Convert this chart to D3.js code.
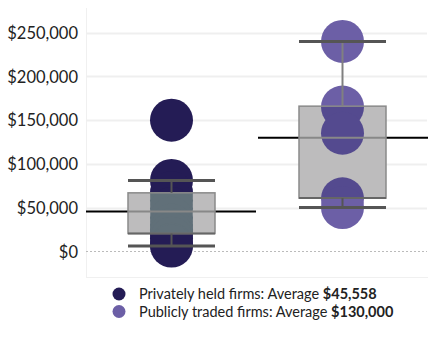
<!DOCTYPE html>
<html>
<head>
<meta charset="utf-8">
<script src="https://cdn.jsdelivr.net/npm/d3@7"></script>
<style>
	body { margin: 0; background: #fff; }
	svg text { font-family: Lato, "Noto Sans", sans-serif; fill: #222; }
</style>
</head>
<body>
<svg id="chart" width="441" height="352"></svg>
<script>
// groups and their values
var groups = ["Privately held firms", "Publicly traded firms"];
var privateValues = [150000, 81000, 67000, 58000, 49000, 38000, 30000, 25000, 20000, 15000, 8000, 6000];
var publicValues = [240000, 165000, 135000, 60000, 50000];
var averages = [45558, 130000];
var q1 = [20300, 60800];
var q3 = [66850, 166000];
var whiskerLow = [6000, 50000];
var whiskerHigh = [81000, 240000];
var yTicks = [0, 50000, 100000, 150000, 200000, 250000];

;(function(){
	var colors = ["#241c55", "#6c5fa6"];
	var inBoxColors = ["#617079", "#544a8f"];
	var r = 21.5;
	var boxHalf = 43.5;

	var svg = d3.select("#chart");
	var values = [privateValues, publicValues];

	var yscale = d3.scaleLinear().domain([-30000, 280000]).range([277.5, 6.5]);
	var xscale = d3.scaleBand().domain(groups).range([86, 428]).padding(0);
	var cx = function(g){ return xscale(g) + xscale.bandwidth() / 2; };

	// pane borders
	svg.append("line")
		.attr("x1", 86.5).attr("x2", 86.5).attr("y1", 8).attr("y2", 277)
		.attr("stroke", "#f0f0f0");
	svg.append("line")
		.attr("x1", 86).attr("x2", 428).attr("y1", 277.5).attr("y2", 277.5)
		.attr("stroke", "#f0f0f0");

	// grid
	svg.append("g").selectAll("line")
		.data(yTicks).enter().append("line")
			.attr("x1", 86).attr("x2", 427)
			.attr("y1", function(d){ return Math.round(yscale(d)) + 0.5; })
			.attr("y2", function(d){ return Math.round(yscale(d)) + 0.5; })
			.attr("stroke", function(d){ return d === 0 ? "#bbb" : "#efefef"; })
			.attr("stroke-width", function(d){ return d === 0 ? 1 : 2; })
			.attr("stroke-dasharray", function(d){ return d === 0 ? "2,2" : null; });

	// y axis labels
	var yaxis = d3.axisLeft(yscale)
		.tickValues(yTicks)
		.tickSize(0)
		.tickPadding(0)
		.tickFormat(function(d){ return "$" + d3.format(",")(d); });
	var gY = svg.append("g")
		.attr("transform", "translate(78,0)")
		.call(yaxis);
	gY.select(".domain").remove();
	gY.selectAll("text")
		.style("font-size", "16.5px")
		.attr("fill", "#222")
		.attr("dy", "0.35em");

	// clip paths for the boxes
	var defs = svg.append("defs");
	groups.forEach(function(g, i){
		defs.append("clipPath").attr("id", "box" + i)
			.append("rect")
				.attr("x", cx(g) - boxHalf)
				.attr("width", boxHalf * 2)
				.attr("y", yscale(q3[i]))
				.attr("height", yscale(q1[i]) - yscale(q3[i]));
	});

	groups.forEach(function(g, i){
		var x = cx(g);
		var band = xscale(g);

		// average line (under the box)
		svg.append("line")
			.attr("x1", band + (i === 0 ? 0 : 1)).attr("x2", band + xscale.bandwidth() - (i === 0 ? 1 : 0))
			.attr("y1", yscale(averages[i])).attr("y2", yscale(averages[i]))
			.attr("stroke", "#000").attr("stroke-width", 2);

		// points
		svg.append("g").selectAll("circle")
			.data(values[i]).enter().append("circle")
				.attr("cx", x)
				.attr("cy", function(d){ return yscale(d); })
				.attr("r", r)
				.attr("fill", colors[i]);

		// box
		svg.append("rect")
			.attr("x", x - boxHalf)
			.attr("width", boxHalf * 2)
			.attr("y", yscale(q3[i]))
			.attr("height", yscale(q1[i]) - yscale(q3[i]))
			.attr("fill", "#bdbcbd");

		// points seen through the box
		svg.append("g").attr("clip-path", "url(#box" + i + ")")
			.selectAll("circle")
			.data(values[i]).enter().append("circle")
				.attr("cx", x)
				.attr("cy", function(d){ return yscale(d); })
				.attr("r", r)
				.attr("fill", inBoxColors[i]);

		// average line seen through the box
		svg.append("line")
			.attr("x1", x - boxHalf).attr("x2", x + boxHalf)
			.attr("y1", yscale(averages[i])).attr("y2", yscale(averages[i]))
			.attr("stroke", "#888").attr("stroke-width", 2);

		// box outline
		svg.append("rect")
			.attr("x", x - boxHalf)
			.attr("width", boxHalf * 2)
			.attr("y", yscale(q3[i]))
			.attr("height", yscale(q1[i]) - yscale(q3[i]))
			.attr("fill", "none")
			.attr("stroke", "#8a8a8a")
			.attr("stroke-width", 1.5);
		svg.append("line")
			.attr("x1", x - boxHalf).attr("x2", x + boxHalf)
			.attr("y1", yscale(q1[i])).attr("y2", yscale(q1[i]))
			.attr("stroke", "#666").attr("stroke-width", 2);

		// whiskers
		svg.append("line")
			.attr("x1", x).attr("x2", x)
			.attr("y1", yscale(whiskerHigh[i])).attr("y2", yscale(q3[i]))
			.attr("stroke", i === 0 ? "#555" : "#808080").attr("stroke-width", 2);
		svg.append("line")
			.attr("x1", x).attr("x2", x)
			.attr("y1", yscale(q1[i])).attr("y2", yscale(whiskerLow[i]))
			.attr("stroke", "#555").attr("stroke-width", 2);

		svg.append("g").selectAll("line")
			.data([whiskerHigh[i], whiskerLow[i]]).enter().append("line")
				.attr("x1", x - boxHalf).attr("x2", x + boxHalf)
				.attr("y1", function(d){ return yscale(d); })
				.attr("y2", function(d){ return yscale(d); })
				.attr("stroke", "#555")
				.attr("stroke-width", 3);
	});

	// legend
	var legend = svg.append("g").attr("transform", "translate(119,294)");
	var items = legend.selectAll("g")
		.data(groups).enter().append("g")
			.attr("transform", function(d, i){ return "translate(0," + (i * 17.5) + ")"; });
	items.append("circle")
		.attr("r", 6.5)
		.attr("fill", function(d, i){ return colors[i]; });
	var t = items.append("text")
		.attr("x", 20)
		.attr("dy", "0.35em")
		.style("font-size", "14.5px");
	t.append("tspan").text(function(d){ return d + ": Average "; });
	t.append("tspan")
		.style("font-weight", "bold")
		.text(function(d, i){ return "$" + d3.format(",")(averages[i]); });
})();
</script>
</body>
</html>
